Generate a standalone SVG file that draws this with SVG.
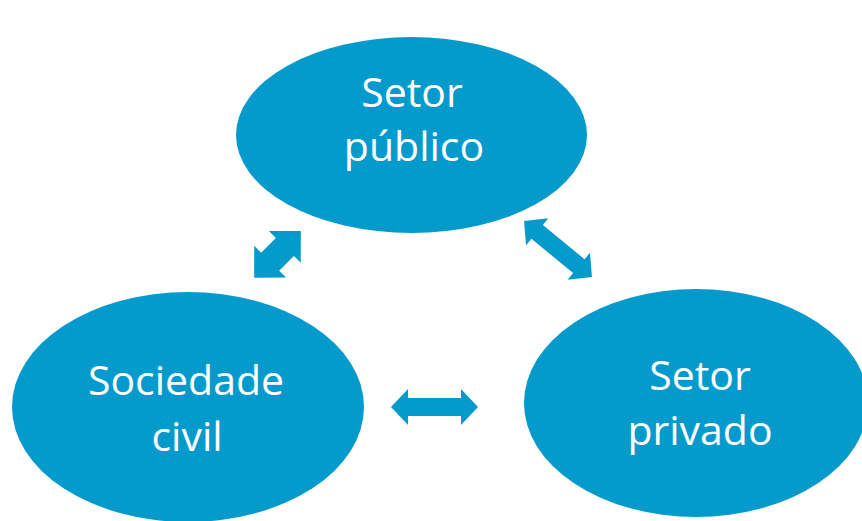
<svg xmlns="http://www.w3.org/2000/svg" width="862" height="521" viewBox="0 0 862 521">
<style>
.node{fill:#059acc;}
.lbl{fill:#ffffff;font-family:"Open Sans","Liberation Sans",sans-serif;font-size:41px;text-anchor:middle;}
.arr{fill:#059acc;}
</style>
<rect width="862" height="521" fill="#ffffff"/>
<g id="setor-publico">
<ellipse class="node" cx="411.5" cy="135" rx="175.5" ry="98"/>
<text class="lbl" x="412" y="107">Setor</text>
<text class="lbl" x="414" y="161">público</text>
</g>
<g id="sociedade-civil">
<ellipse class="node" cx="188" cy="407" rx="176" ry="115"/>
<text class="lbl" x="186" y="395">Sociedade</text>
<text class="lbl" x="187" y="451">civil</text>
</g>
<g id="setor-privado">
<ellipse class="node" cx="696" cy="403" rx="172" ry="114"/>
<text class="lbl" x="700" y="390">Setor</text>
<text class="lbl" x="700" y="445">privado</text>
</g>
<g id="connectors">
<path class="arr" transform="translate(277.5,254.3) rotate(-45)" d="M-33,0 L-10.4,-22.5 L-10.4,-12.75 L10.4,-12.75 L10.4,-22.5 L33,0 L10.4,22.5 L10.4,12.75 L-10.4,12.75 L-10.4,22.5 Z"/>
<path class="arr" transform="translate(558,249) rotate(39.5)" d="M-44,0 L-27,-17.5 L-27,-9 L27,-9 L27,-17.5 L44,0 L27,17.5 L27,9 L-27,9 L-27,17.5 Z"/>
<path class="arr" transform="translate(434.5,407)" d="M-43.5,0 L-26.5,-18 L-26.5,-9 L26.5,-9 L26.5,-18 L43.5,0 L26.5,18 L26.5,9 L-26.5,9 L-26.5,18 Z"/>
</g>
</svg>
